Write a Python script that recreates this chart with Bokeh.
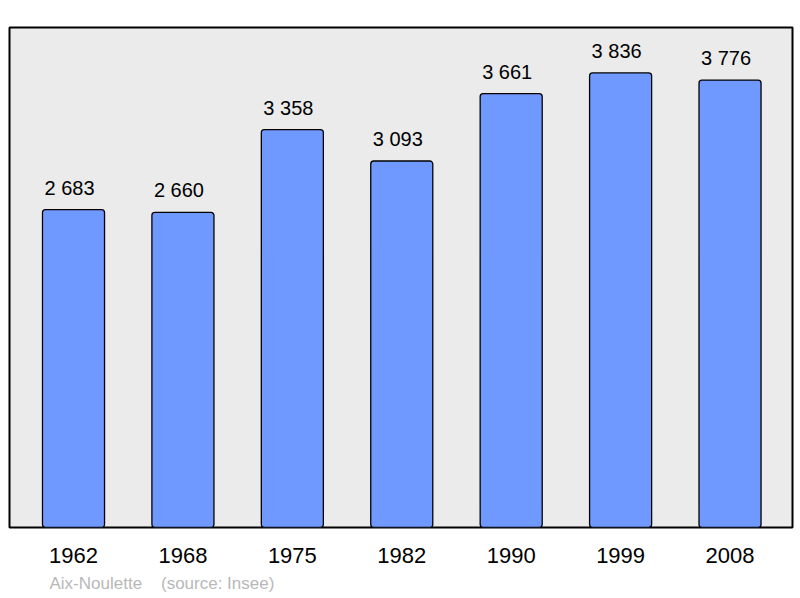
from bokeh.plotting import figure
from bokeh.models import ColumnDataSource, Range1d, FixedTicker, Title
from bokeh.embed import file_html
from bokeh.resources import INLINE
from bokeh.core.properties import value

years = ["1962", "1968", "1975", "1982", "1990", "1999", "2008"]
population = [2683, 2660, 3358, 3093, 3661, 3836, 3776]
value_labels = ["2 683", "2 660", "3 358", "3 093", "3 661", "3 836", "3 776"]
place = "Aix-Noulette"
source_note = "(source: Insee)"

idx = list(range(len(years)))
src = ColumnDataSource(dict(x=idx, top=population, lab=value_labels))

p = figure(width=800, height=598, output_backend="svg", toolbar_location=None,
           x_range=Range1d(-0.585, 6.571), y_range=Range1d(0, max(population) * 1.1),
           min_border_left=9, min_border_right=8, min_border_top=27, min_border_bottom=70)
p.background_fill_color = "#ebebeb"
p.border_fill_color = "white"
p.outline_line_color = "black"
p.outline_line_width = 2
p.xgrid.visible = False
p.ygrid.visible = False
p.yaxis.visible = False

p.vbar(x="x", top="top", width=0.567, bottom=0, source=src,
       fill_color="#7099ff", line_color="black", line_width=1.3, border_radius=3)
p.text(x="x", y="top", text="lab", source=src, text_align="center",
       text_baseline="alphabetic", y_offset=-22, x_offset=-4,
       text_font=value("Liberation Sans"),
       text_font_size="20px", text_color="black")

ax = p.xaxis[0]
ax.ticker = FixedTicker(ticks=idx)
ax.major_label_overrides = {i: y for i, y in zip(idx, years)}
ax.axis_line_color = None
ax.major_tick_line_color = None
ax.minor_tick_line_color = None
ax.major_tick_out = 0
ax.major_tick_in = 0
ax.major_label_standoff = 20
ax.major_label_text_font = "Liberation Sans"
ax.major_label_text_font_size = "22px"
ax.major_label_text_color = "black"

t = Title(text=place + "\u00a0\u00a0\u00a0\u00a0" + source_note, align="left",
          text_color="#b8b8b8", text_font="Liberation Sans", text_font_size="17px",
          text_font_style="normal", offset=40, standoff=12)
p.add_layout(t, "below")

open("out.html", "w").write(file_html(p, INLINE))
